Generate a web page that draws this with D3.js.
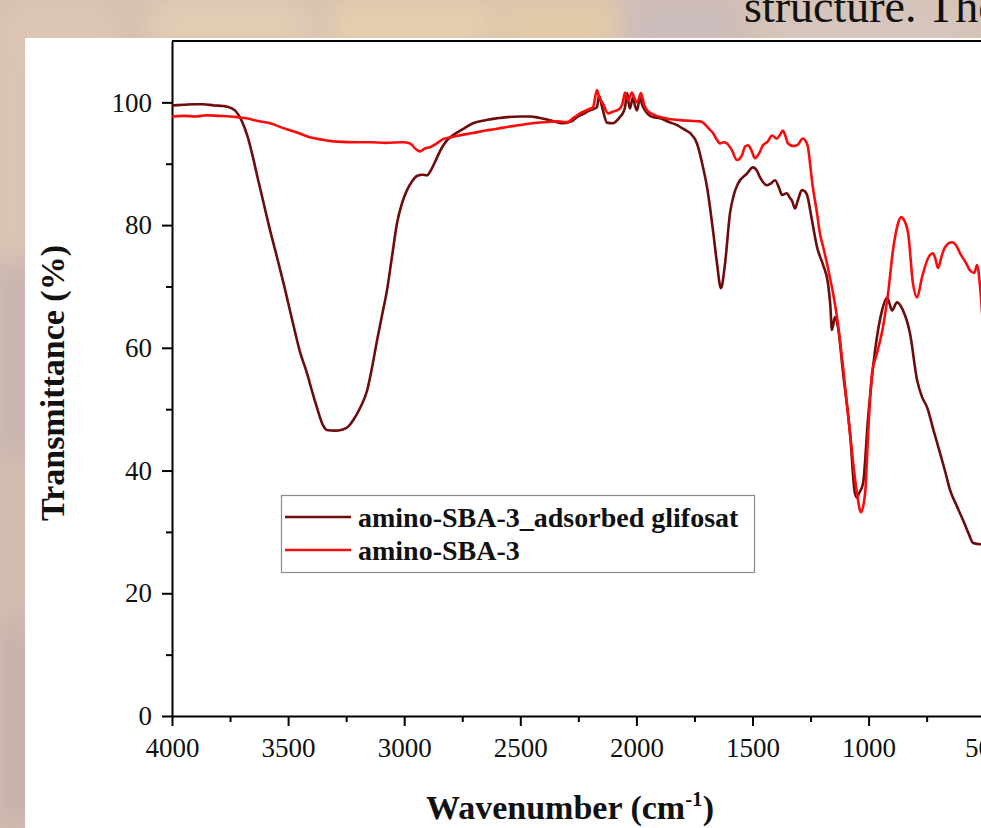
<!DOCTYPE html>
<html>
<head>
<meta charset="utf-8">
<script src="https://cdn.jsdelivr.net/npm/d3@7"></script>
<style>
  html, body { margin: 0; padding: 0; overflow: hidden; background: #d6c2b0; }
  svg { display: block; }
</style>
</head>
<body>
<div id="chart"></div>
<script>
// ---- data ----
var xTicks = [4000, 3500, 3000, 2500, 2000, 1500, 1000, 500];
var xMinorTicks = [3750, 3250, 2750, 2250, 1750, 1250, 750];
var yTicks = [0, 20, 40, 60, 80, 100];
var yMinorTicks = [10, 30, 50, 70, 90];
var seriesNames = ["amino-SBA-3_adsorbed glifosat", "amino-SBA-3"];

var adsorbedWn = [4000, 3950, 3900, 3866, 3820, 3780, 3763, 3729, 3700, 3675, 3651, 3630, 3608, 3580, 3548, 3515, 3479, 3450, 3419, 3395,
  3376, 3350, 3333, 3300, 3264, 3240, 3220, 3190, 3160, 3140, 3117, 3095, 3074, 3052, 3031, 3010, 2988, 2965, 2945, 2920,
  2902, 2880, 2859, 2838, 2816, 2780, 2740, 2704, 2650, 2600, 2557, 2500, 2458, 2420, 2372, 2316, 2280, 2256, 2230, 2200,
  2170, 2161, 2150, 2144, 2127, 2101, 2085, 2071, 2055, 2049, 2040, 2033, 2028, 2015, 2005, 1997, 1985, 1975, 1963, 1929,
  1898, 1860, 1825, 1790, 1769, 1739, 1713, 1695, 1683, 1668, 1653, 1636, 1618, 1597, 1580, 1562, 1524, 1498, 1480, 1468,
  1438, 1420, 1403, 1385, 1373, 1352, 1340, 1330, 1317, 1305, 1287, 1275, 1265, 1244, 1222, 1196, 1175, 1165, 1158, 1145,
  1132, 1110, 1080, 1059, 1050, 1041, 1024, 1002, 972, 942, 920, 910, 899, 878, 852, 822, 791, 770, 748, 720,
  692, 670, 649, 620, 593, 570, 550, 520, 500];
var adsorbedT = [99.5, 99.6, 99.7, 99.7, 99.5, 99.4, 99.3, 98.7, 97.0, 94.5, 91.0, 87.5, 84.0, 79.5, 74.8, 69.8, 64.0, 59.5, 55.9, 52.7,
  50.3, 47.4, 46.6, 46.5, 46.7, 47.2, 48.2, 50.2, 53.0, 56.5, 61.2, 65.4, 69.4, 75.0, 80.3, 83.5, 85.7, 87.2, 88.0, 88.2,
  88.1, 89.3, 91.0, 92.6, 93.8, 94.9, 95.8, 96.6, 97.1, 97.4, 97.6, 97.7, 97.7, 97.5, 97.1, 96.6, 96.9, 97.6, 98.1, 98.7,
  99.2, 101.1, 99.6, 98.7, 96.7, 96.6, 97.0, 97.6, 98.5, 99.2, 101.5, 99.8, 99.0, 100.8, 99.3, 98.7, 100.8, 99.6, 98.7, 97.6,
  97.4, 96.8, 96.3, 95.5, 95.0, 93.3, 89.4, 86.0, 82.9, 78.5, 73.8, 69.7, 73.8, 81.9, 85.0, 86.8, 88.4, 89.4, 88.8, 87.8,
  86.5, 86.8, 87.3, 86.0, 84.9, 85.2, 84.5, 84.0, 82.7, 84.0, 85.7, 85.5, 84.9, 80.8, 76.4, 73.5, 70.5, 67.0, 62.9, 65.0,
  63.4, 55.9, 46.1, 36.3, 35.6, 36.3, 37.9, 48.7, 59.6, 66.1, 68.2, 67.2, 66.1, 67.4, 66.1, 62.4, 54.7, 52.0, 50.3, 46.5,
  42.8, 39.8, 36.8, 34.2, 31.9, 29.8, 28.2, 28.0, 28.0];

var baseWn = [4000, 3950, 3900, 3850, 3800, 3750, 3720, 3680, 3634, 3578, 3520, 3462, 3406, 3350, 3289, 3200, 3147, 3080, 3005, 2975,
  2950, 2932, 2910, 2889, 2860, 2833, 2800, 2750, 2704, 2650, 2600, 2557, 2500, 2450, 2385, 2340, 2299, 2270, 2243, 2210,
  2187, 2170, 2160, 2144, 2122, 2100, 2071, 2060, 2049, 2036, 2019, 2008, 1997, 1980, 1968, 1954, 1925, 1898, 1860, 1812,
  1770, 1726, 1713, 1690, 1670, 1655, 1640, 1625, 1610, 1590, 1567, 1545, 1532, 1519, 1505, 1489, 1470, 1455, 1435, 1416,
  1395, 1380, 1369, 1358, 1347, 1325, 1308, 1283, 1270, 1261, 1252, 1244, 1222, 1209, 1196, 1175, 1166, 1153, 1136, 1110,
  1080, 1050, 1033, 1015, 1002, 985, 964, 938, 916, 895, 873, 860, 852, 830, 809, 791, 770, 744, 723, 712,
  701, 685, 671, 641, 620, 606, 580, 563, 545, 533, 520, 510];
var baseT = [97.7, 97.8, 97.7, 97.9, 97.8, 97.7, 97.6, 97.4, 97.0, 96.6, 95.8, 95.1, 94.3, 93.9, 93.6, 93.5, 93.5, 93.4, 93.5, 93.3,
  92.4, 92.0, 92.5, 92.7, 93.3, 94.0, 94.3, 94.7, 95.0, 95.4, 95.7, 96.0, 96.3, 96.6, 96.8, 96.9, 96.8, 97.5, 98.2, 98.8,
  99.2, 102.0, 100.8, 99.8, 98.2, 98.5, 99.0, 99.8, 101.6, 100.3, 101.6, 100.6, 100.0, 101.5, 99.8, 98.7, 98.0, 97.6, 97.3, 97.1,
  97.0, 96.9, 96.7, 95.8, 95.0, 94.0, 93.3, 93.5, 93.3, 92.3, 90.6, 91.4, 92.8, 93.0, 92.2, 90.9, 91.8, 93.0, 93.6, 94.6,
  94.1, 94.8, 95.4, 94.5, 93.3, 92.9, 93.0, 94.1, 93.6, 92.7, 90.0, 87.3, 81.9, 78.5, 76.5, 73.0, 71.3, 68.9, 65.0, 56.8,
  46.0, 36.3, 33.2, 36.3, 46.0, 55.9, 59.1, 63.4, 68.9, 75.9, 80.3, 81.3, 81.1, 78.7, 70.5, 68.2, 71.5, 74.6, 75.4, 74.5,
  73.0, 75.0, 76.4, 77.2, 76.5, 75.4, 73.8, 72.6, 72.2, 73.5, 70.0, 65.0];

var seriesColors = ["#6e0c0c", "#fb0c0c"];

// ---- layout ----
var W = 981, H = 828;
var plotLeft = 172, plotTop = 41, plotBottom = 716;

var svg = d3.select("#chart").append("svg")
  .attr("width", W)
  .attr("height", H);

// blurred slide background
var defs = svg.append("defs");
defs.append("filter").attr("id", "blur")
  .attr("x", "-50%").attr("y", "-50%").attr("width", "200%").attr("height", "200%")
  .append("feGaussianBlur").attr("stdDeviation", 14);

var bg = svg.append("g").attr("filter", "url(#blur)");
bg.append("rect").attr("x", -40).attr("y", -40).attr("width", W + 80).attr("height", H + 80).attr("fill", "#d4bfb0");
var blobs = [
  [0, 0, 120, 60, "#dcc5b2"], [150, 0, 160, 50, "#e2cdb4"], [330, 0, 160, 50, "#e6cfae"],
  [500, 0, 120, 50, "#e3cba8"], [620, 0, 120, 50, "#cbbcbc"], [760, 0, 220, 50, "#d6c6bd"],
  [0, 60, 30, 200, "#dcc7b7"], [0, 260, 30, 200, "#c5b1b1"], [0, 470, 30, 150, "#d0bcb0"],
  [0, 620, 30, 210, "#c3afab"]
];
blobs.forEach(function (b) {
  bg.append("rect").attr("x", b[0]).attr("y", b[1]).attr("width", b[2]).attr("height", b[3]).attr("fill", b[4]);
});

var serif = "'Liberation Serif', 'Times New Roman', serif";

// slide text peeking at the top
svg.append("text")
  .attr("x", 744).attr("y", 22)
  .style("font-family", serif)
  .style("font-size", "46px")
  .attr("fill", "#111")
  .text("structure. The");

// white figure panel
svg.append("rect").attr("x", 25).attr("y", 38).attr("width", W).attr("height", H).attr("fill", "#ffffff");

// ---- scales ----
var x = d3.scaleLinear().domain([4000, 400]).range([plotLeft, plotLeft + 3600 * 0.2322]);
var y = d3.scaleLinear().domain([0, 110]).range([plotBottom, plotTop]);

// minor ticks
svg.append("g")
  .attr("transform", "translate(0," + plotBottom + ")")
  .call(d3.axisBottom(x).tickValues(xMinorTicks).tickSize(6).tickFormat(""))
  .call(function (g) { g.select(".domain").remove(); })
  .selectAll("line").attr("stroke-width", 2);
svg.append("g")
  .attr("transform", "translate(" + plotLeft + ",0)")
  .call(d3.axisLeft(y).tickValues(yMinorTicks).tickSize(6).tickFormat(""))
  .call(function (g) { g.select(".domain").remove(); })
  .selectAll("line").attr("stroke-width", 2);

// major axes
var xAxis = svg.append("g")
  .attr("transform", "translate(0," + plotBottom + ")")
  .call(d3.axisBottom(x).tickValues(xTicks).tickSize(10).tickSizeOuter(0).tickPadding(12).tickFormat(d3.format("d")));
xAxis.select(".domain").attr("stroke-width", 2);
xAxis.selectAll("line").attr("stroke-width", 2);
xAxis.selectAll("text").style("font-family", serif).style("font-size", "27px").attr("fill", "#111");

var yAxis = svg.append("g")
  .attr("transform", "translate(" + plotLeft + ",0)")
  .call(d3.axisLeft(y).tickValues(yTicks).tickSize(10).tickSizeOuter(0).tickPadding(10));
yAxis.select(".domain").attr("stroke-width", 2);
yAxis.selectAll("line").attr("stroke-width", 2);
yAxis.selectAll("text").style("font-family", serif).style("font-size", "27px").attr("fill", "#111");

// top frame line
svg.append("line")
  .attr("x1", plotLeft).attr("x2", x(400))
  .attr("y1", y(110)).attr("y2", y(110))
  .attr("stroke", "#000").attr("stroke-width", 2);

// ---- spectra ----
var line = d3.line()
  .x(function (d) { return x(d[0]); })
  .y(function (d) { return y(d[1]); })
  .curve(d3.curveMonotoneX);

var series = [d3.zip(adsorbedWn, adsorbedT), d3.zip(baseWn, baseT)];
series.forEach(function (pts, i) {
  svg.append("path")
    .datum(pts)
    .attr("fill", "none")
    .attr("stroke", seriesColors[i])
    .attr("stroke-width", 2.6)
    .attr("stroke-linejoin", "round")
    .attr("d", line);
});

// ---- legend ----
var legend = svg.append("g");
legend.append("rect")
  .attr("x", 281.5).attr("y", 495.5).attr("width", 473).attr("height", 77)
  .attr("fill", "#fff").attr("stroke", "#8a8a8a").attr("stroke-width", 1.2);
seriesNames.forEach(function (name, i) {
  var ly = 517 + i * 33;
  legend.append("line")
    .attr("x1", 285).attr("x2", 351).attr("y1", ly).attr("y2", ly)
    .attr("stroke", seriesColors[i]).attr("stroke-width", 2.6);
  legend.append("text")
    .attr("x", 358).attr("y", ly + 10)
    .style("font-family", serif).style("font-weight", "bold").style("font-size", "28px")
    .attr("fill", "#111")
    .text(name);
});

// ---- axis titles ----
var xt = svg.append("text")
  .attr("x", 570).attr("y", 819)
  .attr("text-anchor", "middle")
  .style("font-family", serif).style("font-weight", "bold").style("font-size", "34px")
  .attr("fill", "#111");
xt.append("tspan").text("Wavenumber (cm");
xt.append("tspan").attr("dy", -13).style("font-size", "21px").text("-1");
xt.append("tspan").attr("dy", 13).text(")");

svg.append("text")
  .attr("transform", "translate(64,383) rotate(-90)")
  .attr("text-anchor", "middle")
  .style("font-family", serif).style("font-weight", "bold").style("font-size", "34px")
  .attr("fill", "#111")
  .text("Transmittance (%)");
</script>
</body>
</html>
